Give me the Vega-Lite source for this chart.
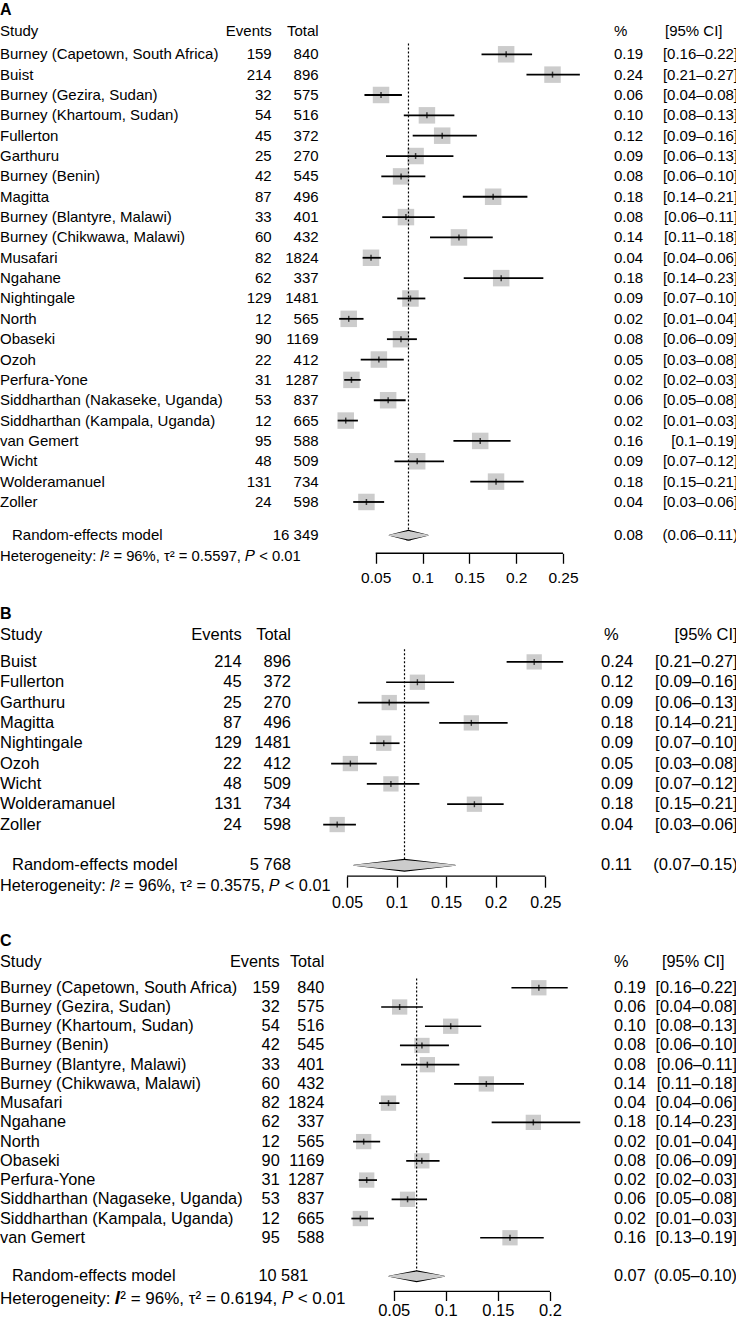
{
"$schema": "https://vega.github.io/schema/vega-lite/v6.json",
"padding": {"left": 0, "top": 2, "right": 0, "bottom": 0},
"background": "white",
"datasets": {
"A": [
{"study":"Burney (Capetown, South Africa)","events":159,"total":840,"prop":0.1893,"lower":0.163,"upper":0.217,"pct":"0.19","ci":"[0.16–0.22]"},
{"study":"Buist","events":214,"total":896,"prop":0.2388,"lower":0.211,"upper":0.268,"pct":"0.24","ci":"[0.21–0.27]"},
{"study":"Burney (Gezira, Sudan)","events":32,"total":575,"prop":0.0557,"lower":0.038,"upper":0.078,"pct":"0.06","ci":"[0.04–0.08]"},
{"study":"Burney (Khartoum, Sudan)","events":54,"total":516,"prop":0.1047,"lower":0.080,"upper":0.134,"pct":"0.10","ci":"[0.08–0.13]"},
{"study":"Fullerton","events":45,"total":372,"prop":0.1210,"lower":0.0895,"upper":0.158,"pct":"0.12","ci":"[0.09–0.16]"},
{"study":"Garthuru","events":25,"total":270,"prop":0.0926,"lower":0.061,"upper":0.133,"pct":"0.09","ci":"[0.06–0.13]"},
{"study":"Burney (Benin)","events":42,"total":545,"prop":0.0771,"lower":0.056,"upper":0.103,"pct":"0.08","ci":"[0.06–0.10]"},
{"study":"Magitta","events":87,"total":496,"prop":0.1754,"lower":0.143,"upper":0.212,"pct":"0.18","ci":"[0.14–0.21]"},
{"study":"Burney (Blantyre, Malawi)","events":33,"total":401,"prop":0.0823,"lower":0.057,"upper":0.113,"pct":"0.08","ci":"[0.06–0.11]"},
{"study":"Burney (Chikwawa, Malawi)","events":60,"total":432,"prop":0.1389,"lower":0.108,"upper":0.175,"pct":"0.14","ci":"[0.11–0.18]"},
{"study":"Musafari","events":82,"total":1824,"prop":0.0450,"lower":0.036,"upper":0.0555,"pct":"0.04","ci":"[0.04–0.06]"},
{"study":"Ngahane","events":62,"total":337,"prop":0.1840,"lower":0.144,"upper":0.229,"pct":"0.18","ci":"[0.14–0.23]"},
{"study":"Nightingale","events":129,"total":1481,"prop":0.0871,"lower":0.073,"upper":0.103,"pct":"0.09","ci":"[0.07–0.10]"},
{"study":"North","events":12,"total":565,"prop":0.0212,"lower":0.011,"upper":0.037,"pct":"0.02","ci":"[0.01–0.04]"},
{"study":"Obaseki","events":90,"total":1169,"prop":0.0770,"lower":0.062,"upper":0.094,"pct":"0.08","ci":"[0.06–0.09]"},
{"study":"Ozoh","events":22,"total":412,"prop":0.0534,"lower":0.034,"upper":0.080,"pct":"0.05","ci":"[0.03–0.08]"},
{"study":"Perfura-Yone","events":31,"total":1287,"prop":0.0241,"lower":0.0164,"upper":0.034,"pct":"0.02","ci":"[0.02–0.03]"},
{"study":"Siddharthan (Nakaseke, Uganda)","events":53,"total":837,"prop":0.0633,"lower":0.048,"upper":0.082,"pct":"0.06","ci":"[0.05–0.08]"},
{"study":"Siddharthan (Kampala, Uganda)","events":12,"total":665,"prop":0.0180,"lower":0.0094,"upper":0.031,"pct":"0.02","ci":"[0.01–0.03]"},
{"study":"van Gemert","events":95,"total":588,"prop":0.1616,"lower":0.133,"upper":0.194,"pct":"0.16","ci":"[0.1–0.19]"},
{"study":"Wicht","events":48,"total":509,"prop":0.0943,"lower":0.070,"upper":0.123,"pct":"0.09","ci":"[0.07–0.12]"},
{"study":"Wolderamanuel","events":131,"total":734,"prop":0.1785,"lower":0.151,"upper":0.208,"pct":"0.18","ci":"[0.15–0.21]"},
{"study":"Zoller","events":24,"total":598,"prop":0.0401,"lower":0.026,"upper":0.059,"pct":"0.04","ci":"[0.03–0.06]"}
],
"Am": [{"study":"Random-effects model","total":16349,"prop":0.085,"pct":"0.08","ci":"(0.06–0.11)"}],
"Ad": [{"prop":0.0645,"part":"tip"},{"prop":0.085,"part":"centre"},{"prop":0.1058,"part":"tip"}],
"B": [
{"study":"Buist","events":214,"total":896,"prop":0.2388,"lower":0.211,"upper":0.268,"pct":"0.24","ci":"[0.21–0.27]"},
{"study":"Fullerton","events":45,"total":372,"prop":0.1210,"lower":0.0895,"upper":0.158,"pct":"0.12","ci":"[0.09–0.16]"},
{"study":"Garthuru","events":25,"total":270,"prop":0.0926,"lower":0.061,"upper":0.133,"pct":"0.09","ci":"[0.06–0.13]"},
{"study":"Magitta","events":87,"total":496,"prop":0.1754,"lower":0.143,"upper":0.212,"pct":"0.18","ci":"[0.14–0.21]"},
{"study":"Nightingale","events":129,"total":1481,"prop":0.0871,"lower":0.073,"upper":0.103,"pct":"0.09","ci":"[0.07–0.10]"},
{"study":"Ozoh","events":22,"total":412,"prop":0.0534,"lower":0.034,"upper":0.080,"pct":"0.05","ci":"[0.03–0.08]"},
{"study":"Wicht","events":48,"total":509,"prop":0.0943,"lower":0.070,"upper":0.123,"pct":"0.09","ci":"[0.07–0.12]"},
{"study":"Wolderamanuel","events":131,"total":734,"prop":0.1785,"lower":0.151,"upper":0.208,"pct":"0.18","ci":"[0.15–0.21]"},
{"study":"Zoller","events":24,"total":598,"prop":0.0401,"lower":0.026,"upper":0.059,"pct":"0.04","ci":"[0.03–0.06]"}
],
"Bm": [{"study":"Random-effects model","total":5768,"prop":0.108,"pct":"0.11","ci":"(0.07–0.15)"}],
"Bd": [{"prop":0.057,"part":"tip"},{"prop":0.108,"part":"centre"},{"prop":0.159,"part":"tip"}],
"C": [
{"study":"Burney (Capetown, South Africa)","events":159,"total":840,"prop":0.1893,"lower":0.163,"upper":0.217,"pct":"0.19","ci":"[0.16–0.22]"},
{"study":"Burney (Gezira, Sudan)","events":32,"total":575,"prop":0.0557,"lower":0.038,"upper":0.078,"pct":"0.06","ci":"[0.04–0.08]"},
{"study":"Burney (Khartoum, Sudan)","events":54,"total":516,"prop":0.1047,"lower":0.080,"upper":0.134,"pct":"0.10","ci":"[0.08–0.13]"},
{"study":"Burney (Benin)","events":42,"total":545,"prop":0.0771,"lower":0.056,"upper":0.103,"pct":"0.08","ci":"[0.06–0.10]"},
{"study":"Burney (Blantyre, Malawi)","events":33,"total":401,"prop":0.0823,"lower":0.057,"upper":0.113,"pct":"0.08","ci":"[0.06–0.11]"},
{"study":"Burney (Chikwawa, Malawi)","events":60,"total":432,"prop":0.1389,"lower":0.108,"upper":0.175,"pct":"0.14","ci":"[0.11–0.18]"},
{"study":"Musafari","events":82,"total":1824,"prop":0.0450,"lower":0.036,"upper":0.0555,"pct":"0.04","ci":"[0.04–0.06]"},
{"study":"Ngahane","events":62,"total":337,"prop":0.1840,"lower":0.144,"upper":0.229,"pct":"0.18","ci":"[0.14–0.23]"},
{"study":"North","events":12,"total":565,"prop":0.0212,"lower":0.011,"upper":0.037,"pct":"0.02","ci":"[0.01–0.04]"},
{"study":"Obaseki","events":90,"total":1169,"prop":0.0770,"lower":0.062,"upper":0.094,"pct":"0.08","ci":"[0.06–0.09]"},
{"study":"Perfura-Yone","events":31,"total":1287,"prop":0.0241,"lower":0.0164,"upper":0.034,"pct":"0.02","ci":"[0.02–0.03]"},
{"study":"Siddharthan (Nagaseke, Uganda)","events":53,"total":837,"prop":0.0633,"lower":0.048,"upper":0.082,"pct":"0.06","ci":"[0.05–0.08]"},
{"study":"Siddharthan (Kampala, Uganda)","events":12,"total":665,"prop":0.0180,"lower":0.0094,"upper":0.031,"pct":"0.02","ci":"[0.01–0.03]"},
{"study":"van Gemert","events":95,"total":588,"prop":0.1616,"lower":0.133,"upper":0.194,"pct":"0.16","ci":"[0.13–0.19]"}
],
"Cm": [{"study":"Random-effects model","total":10581,"prop":0.072,"pct":"0.07","ci":"(0.05–0.10)"}],
"Cd": [{"prop":0.0455,"part":"tip"},{"prop":0.072,"part":"centre"},{"prop":0.0985,"part":"tip"}]
},
"spacing": 19.26,
"vconcat": [
{"spacing": 0, "bounds": "flush", "hconcat": [
{"width":225,"height":570.61,"data":{"name":"A"},
 "encoding":{"y":{"field":"study","type":"nominal","axis":null,"scale":{"type":"point","padding":0.52,"domain":["A","Study","Burney (Capetown, South Africa)","Buist","Burney (Gezira, Sudan)","Burney (Khartoum, Sudan)","Fullerton","Garthuru","Burney (Benin)","Magitta","Burney (Blantyre, Malawi)","Burney (Chikwawa, Malawi)","Musafari","Ngahane","Nightingale","North","Obaseki","Ozoh","Perfura-Yone","Siddharthan (Nakaseke, Uganda)","Siddharthan (Kampala, Uganda)","van Gemert","Wicht","Wolderamanuel","Zoller","gap","Random-effects model","Heterogeneity"]}}},
 "layer":[
  {"data":{"values":[{}]},"mark":{"type":"text","x":0,"align":"left","text":"A","fontWeight":"bold","fontSize":16,"yOffset":-3.3},"encoding":{"y":{"datum":"A","axis":null}}},
  {"data":{"values":[{}]},"mark":{"type":"text","x":0,"align":"left","text":"Study","fontSize":15,"yOffset":-3},"encoding":{"y":{"datum":"Study","axis":null}}},
  {"mark":{"type":"text","x":0,"align":"left","fontSize":15},"encoding":{"text":{"field":"study"}}},
  {"data":{"name":"Am"},"mark":{"type":"text","x":0,"align":"left","dx":12,"fontSize":15,"yOffset":-7.4},"encoding":{"text":{"field":"study"}}},
  {"data":{"values":[{}]},"mark":{"type":"text","x":0,"align":"left","text":"Heterogeneity: 𝐼² = 96%, τ² = 0.5597, 𝑃 < 0.01","fontSize":14.8,"yOffset":-6},"encoding":{"y":{"datum":"Heterogeneity","axis":null}}}
 ]},
{"width":46.7,"height":570.61,"data":{"name":"A"},
 "encoding":{"y":{"field":"study","type":"nominal","axis":null,"scale":{"type":"point","padding":0.52,"domain":["A","Study","Burney (Capetown, South Africa)","Buist","Burney (Gezira, Sudan)","Burney (Khartoum, Sudan)","Fullerton","Garthuru","Burney (Benin)","Magitta","Burney (Blantyre, Malawi)","Burney (Chikwawa, Malawi)","Musafari","Ngahane","Nightingale","North","Obaseki","Ozoh","Perfura-Yone","Siddharthan (Nakaseke, Uganda)","Siddharthan (Kampala, Uganda)","van Gemert","Wicht","Wolderamanuel","Zoller","gap","Random-effects model","Heterogeneity"]}}},
 "layer":[
  {"data":{"values":[{}]},"mark":{"type":"text","x":"width","align":"right","text":"Events","fontSize":15,"yOffset":-3},"encoding":{"y":{"datum":"Study","axis":null}}},
  {"mark":{"type":"text","x":"width","align":"right","fontSize":15},"encoding":{"text":{"field":"events","type":"quantitative","format":"d"}}}
 ]},
{"width":46.6,"height":570.61,"data":{"name":"A"},
 "encoding":{"y":{"field":"study","type":"nominal","axis":null,"scale":{"type":"point","padding":0.52,"domain":["A","Study","Burney (Capetown, South Africa)","Buist","Burney (Gezira, Sudan)","Burney (Khartoum, Sudan)","Fullerton","Garthuru","Burney (Benin)","Magitta","Burney (Blantyre, Malawi)","Burney (Chikwawa, Malawi)","Musafari","Ngahane","Nightingale","North","Obaseki","Ozoh","Perfura-Yone","Siddharthan (Nakaseke, Uganda)","Siddharthan (Kampala, Uganda)","van Gemert","Wicht","Wolderamanuel","Zoller","gap","Random-effects model","Heterogeneity"]}}},
 "layer":[
  {"data":{"values":[{}]},"mark":{"type":"text","x":"width","align":"right","text":"Total","fontSize":15,"yOffset":-3},"encoding":{"y":{"datum":"Study","axis":null}}},
  {"mark":{"type":"text","x":"width","align":"right","fontSize":15},"encoding":{"text":{"field":"total","type":"quantitative","format":"d"}}},
  {"data":{"name":"Am"},"mark":{"type":"text","x":"width","align":"right","fontSize":15,"yOffset":-7.4},"encoding":{"text":{"field":"total","type":"quantitative","format":",d"}}}
 ]},
{"width":294.4,"height":550.26,"data":{"name":"A"},
 "encoding":{"y":{"field":"study","type":"nominal","axis":null,"scale":{"type":"point","padding":0.52,"domain":["A","Study","Burney (Capetown, South Africa)","Buist","Burney (Gezira, Sudan)","Burney (Khartoum, Sudan)","Fullerton","Garthuru","Burney (Benin)","Magitta","Burney (Blantyre, Malawi)","Burney (Chikwawa, Malawi)","Musafari","Ngahane","Nightingale","North","Obaseki","Ozoh","Perfura-Yone","Siddharthan (Nakaseke, Uganda)","Siddharthan (Kampala, Uganda)","van Gemert","Wicht","Wolderamanuel","Zoller","gap","Random-effects model"]}}},
 "layer":[
  {"mark":{"type":"point","shape":"square","filled":true,"size":272,"color":"#cccccc","opacity":1},
   "encoding":{"x":{"field":"prop","type":"quantitative","title":null,"scale":{"domain":[-0.01054,0.30382],"nice":false,"zero":false},
     "axis":{"values":[0.05,0.1,0.15,0.2,0.25],"format":"~g","tickSize":10,"tickWidth":1.3,"labelFontSize":15.5,"labelPadding":7,"labelFlush":false,"labelOverlap":false,"domain":false,"grid":false}}}},
  {"data":{"name":"Am"},"mark":{"type":"rule","strokeDash":[2,2],"strokeWidth":1.2,"color":"black","yOffset":9.5,"y2Offset":-7.4},
   "encoding":{"x":{"field":"prop","type":"quantitative","title":null},"y":{"datum":"Study","axis":null},"y2":{"datum":"Random-effects model"}}},
  {"mark":{"type":"rule","strokeWidth":1.8,"color":"black"},"encoding":{"x":{"field":"lower","type":"quantitative","title":null},"x2":{"field":"upper"}}},
  {"mark":{"type":"tick","size":6,"thickness":1.5,"color":"black"},"encoding":{"x":{"field":"prop","type":"quantitative","title":null}}},
  {"data":{"name":"Ad"},"mark":{"type":"trail","color":"black","yOffset":-7.4},
   "encoding":{"x":{"field":"prop","type":"quantitative","title":null},"y":{"datum":"Random-effects model","axis":null},"size":{"field":"part","type":"ordinal","legend":null,"scale":{"type":"point","domain":["tip","centre"],"range":[0,11]}}}},
  {"data":{"name":"Ad"},"mark":{"type":"trail","color":"#cccccc","yOffset":-7.4},
   "encoding":{"x":{"field":"prop","type":"quantitative","title":null},"y":{"datum":"Random-effects model","axis":null},"size":{"field":"part","type":"ordinal","legend":null,"scale":{"type":"point","domain":["tip","centre"],"range":[0,8.4]}}}},
  {"data":{"values":[{}]},"mark":{"type":"rule","strokeWidth":1.3,"color":"black"},
   "encoding":{"x":{"datum":0.05,"type":"quantitative","title":null},"x2":{"datum":0.25},"y":{"value":"height"}}}
 ],
 "resolve":{"scale":{"size":"independent"}}},
{"width":50.3,"height":570.61,"data":{"name":"A"},
 "encoding":{"y":{"field":"study","type":"nominal","axis":null,"scale":{"type":"point","padding":0.52,"domain":["A","Study","Burney (Capetown, South Africa)","Buist","Burney (Gezira, Sudan)","Burney (Khartoum, Sudan)","Fullerton","Garthuru","Burney (Benin)","Magitta","Burney (Blantyre, Malawi)","Burney (Chikwawa, Malawi)","Musafari","Ngahane","Nightingale","North","Obaseki","Ozoh","Perfura-Yone","Siddharthan (Nakaseke, Uganda)","Siddharthan (Kampala, Uganda)","van Gemert","Wicht","Wolderamanuel","Zoller","gap","Random-effects model","Heterogeneity"]}}},
 "layer":[
  {"data":{"values":[{}]},"mark":{"type":"text","x":0,"align":"left","text":"%","fontSize":15,"yOffset":-3},"encoding":{"y":{"datum":"Study","axis":null}}},
  {"mark":{"type":"text","x":0,"align":"left","fontSize":15},"encoding":{"text":{"field":"pct"}}},
  {"data":{"name":"Am"},"mark":{"type":"text","x":0,"align":"left","fontSize":15,"yOffset":-7.4},"encoding":{"text":{"field":"pct"}}}
 ]},
{"width":73,"height":570.61,"data":{"name":"A"},
 "encoding":{"y":{"field":"study","type":"nominal","axis":null,"scale":{"type":"point","padding":0.52,"domain":["A","Study","Burney (Capetown, South Africa)","Buist","Burney (Gezira, Sudan)","Burney (Khartoum, Sudan)","Fullerton","Garthuru","Burney (Benin)","Magitta","Burney (Blantyre, Malawi)","Burney (Chikwawa, Malawi)","Musafari","Ngahane","Nightingale","North","Obaseki","Ozoh","Perfura-Yone","Siddharthan (Nakaseke, Uganda)","Siddharthan (Kampala, Uganda)","van Gemert","Wicht","Wolderamanuel","Zoller","gap","Random-effects model","Heterogeneity"]}}},
 "layer":[
  {"data":{"values":[{}]},"mark":{"type":"text","x":0,"align":"left","text":"[95% CI]","fontSize":15,"yOffset":-3},"encoding":{"y":{"datum":"Study","axis":null}}},
  {"mark":{"type":"text","x":"width","align":"right","fontSize":15},"encoding":{"text":{"field":"ci"}}},
  {"data":{"name":"Am"},"mark":{"type":"text","x":"width","align":"right","fontSize":15,"yOffset":-7.4},"encoding":{"text":{"field":"ci"}}}
 ]}
]},
{"spacing": 21.8, "vconcat": [
{"spacing": 0, "bounds": "flush", "hconcat": [
{"width":200,"height":286.25,"data":{"name":"B"},
 "encoding":{"y":{"field":"study","type":"nominal","axis":null,"scale":{"type":"point","padding":0.54,"domain":["B","Study","Buist","Fullerton","Garthuru","Magitta","Nightingale","Ozoh","Wicht","Wolderamanuel","Zoller","gap","Random-effects model","Heterogeneity"]}}},
 "layer":[
  {"data":{"values":[{}]},"mark":{"type":"text","x":0,"align":"left","text":"B","fontWeight":"bold","fontSize":16,"yOffset":-7},"encoding":{"y":{"datum":"B","axis":null}}},
  {"data":{"values":[{}]},"mark":{"type":"text","x":0,"align":"left","text":"Study","fontSize":16.5,"yOffset":-6.4},"encoding":{"y":{"datum":"Study","axis":null}}},
  {"mark":{"type":"text","x":0,"align":"left","fontSize":16.5},"encoding":{"text":{"field":"study"}}},
  {"data":{"name":"Bm"},"mark":{"type":"text","x":0,"align":"left","dx":12,"fontSize":16.5},"encoding":{"text":{"field":"study"}}},
  {"data":{"values":[{}]},"mark":{"type":"text","x":0,"align":"left","text":"Heterogeneity: 𝐼² = 96%, τ² = 0.3575, 𝑃 < 0.01","fontSize":16.3},"encoding":{"y":{"datum":"Heterogeneity","axis":null}}}
 ]},
{"width":41.7,"height":286.25,"data":{"name":"B"},
 "encoding":{"y":{"field":"study","type":"nominal","axis":null,"scale":{"type":"point","padding":0.54,"domain":["B","Study","Buist","Fullerton","Garthuru","Magitta","Nightingale","Ozoh","Wicht","Wolderamanuel","Zoller","gap","Random-effects model","Heterogeneity"]}}},
 "layer":[
  {"data":{"values":[{}]},"mark":{"type":"text","x":"width","align":"right","text":"Events","fontSize":16.5,"yOffset":-6.4},"encoding":{"y":{"datum":"Study","axis":null}}},
  {"mark":{"type":"text","x":"width","align":"right","fontSize":16.5},"encoding":{"text":{"field":"events","type":"quantitative","format":"d"}}}
 ]},
{"width":49,"height":286.25,"data":{"name":"B"},
 "encoding":{"y":{"field":"study","type":"nominal","axis":null,"scale":{"type":"point","padding":0.54,"domain":["B","Study","Buist","Fullerton","Garthuru","Magitta","Nightingale","Ozoh","Wicht","Wolderamanuel","Zoller","gap","Random-effects model","Heterogeneity"]}}},
 "layer":[
  {"data":{"values":[{}]},"mark":{"type":"text","x":"width","align":"right","text":"Total","fontSize":16.5,"yOffset":-6.4},"encoding":{"y":{"datum":"Study","axis":null}}},
  {"mark":{"type":"text","x":"width","align":"right","fontSize":16.5},"encoding":{"text":{"field":"total","type":"quantitative","format":"d"}}},
  {"data":{"name":"Bm"},"mark":{"type":"text","x":"width","align":"right","fontSize":16.5},"encoding":{"text":{"field":"total","type":"quantitative","format":",d"}}}
 ]},
{"width":309.3,"height":265.92,"data":{"name":"B"},
 "encoding":{"y":{"field":"study","type":"nominal","axis":null,"scale":{"type":"point","padding":0.54,"domain":["B","Study","Buist","Fullerton","Garthuru","Magitta","Nightingale","Ozoh","Wicht","Wolderamanuel","Zoller","gap","Random-effects model"]}}},
 "layer":[
  {"mark":{"type":"point","shape":"square","filled":true,"size":234,"color":"#cccccc","opacity":1},
   "encoding":{"x":{"field":"prop","type":"quantitative","title":null,"scale":{"domain":[-0.00648,0.30547],"nice":false,"zero":false},
     "axis":{"values":[0.05,0.1,0.15,0.2,0.25],"format":"~g","tickSize":11,"tickWidth":1.3,"labelFontSize":16,"labelPadding":7,"labelFlush":false,"labelOverlap":false,"domain":false,"grid":false}}}},
  {"data":{"name":"Bm"},"mark":{"type":"rule","strokeDash":[2,2],"strokeWidth":1.2,"color":"black","yOffset":7.6},
   "encoding":{"x":{"field":"prop","type":"quantitative","title":null},"y":{"datum":"Study","axis":null},"y2":{"datum":"Random-effects model"}}},
  {"mark":{"type":"rule","strokeWidth":1.7,"color":"black"},"encoding":{"x":{"field":"lower","type":"quantitative","title":null},"x2":{"field":"upper"}}},
  {"mark":{"type":"tick","size":6,"thickness":1.4,"color":"black"},"encoding":{"x":{"field":"prop","type":"quantitative","title":null}}},
  {"data":{"name":"Bd"},"mark":{"type":"trail","color":"black"},
   "encoding":{"x":{"field":"prop","type":"quantitative","title":null},"y":{"datum":"Random-effects model","axis":null},"size":{"field":"part","type":"ordinal","legend":null,"scale":{"type":"point","domain":["tip","centre"],"range":[0,13]}}}},
  {"data":{"name":"Bd"},"mark":{"type":"trail","color":"#cccccc"},
   "encoding":{"x":{"field":"prop","type":"quantitative","title":null},"y":{"datum":"Random-effects model","axis":null},"size":{"field":"part","type":"ordinal","legend":null,"scale":{"type":"point","domain":["tip","centre"],"range":[0,10.4]}}}},
  {"data":{"values":[{}]},"mark":{"type":"rule","strokeWidth":1.3,"color":"black"},
   "encoding":{"x":{"datum":0.05,"type":"quantitative","title":null},"x2":{"datum":0.25},"y":{"value":"height"}}}
 ],
 "resolve":{"scale":{"size":"independent"}}},
{"width":54.3,"height":286.25,"data":{"name":"B"},
 "encoding":{"y":{"field":"study","type":"nominal","axis":null,"scale":{"type":"point","padding":0.54,"domain":["B","Study","Buist","Fullerton","Garthuru","Magitta","Nightingale","Ozoh","Wicht","Wolderamanuel","Zoller","gap","Random-effects model","Heterogeneity"]}}},
 "layer":[
  {"data":{"values":[{}]},"mark":{"type":"text","x":0,"align":"left","dx":3,"text":"%","fontSize":16.5,"yOffset":-6.4},"encoding":{"y":{"datum":"Study","axis":null}}},
  {"mark":{"type":"text","x":0,"align":"left","fontSize":16.5},"encoding":{"text":{"field":"pct"}}},
  {"data":{"name":"Bm"},"mark":{"type":"text","x":0,"align":"left","fontSize":16.5},"encoding":{"text":{"field":"pct"}}}
 ]},
{"width":81.7,"height":286.25,"data":{"name":"B"},
 "encoding":{"y":{"field":"study","type":"nominal","axis":null,"scale":{"type":"point","padding":0.54,"domain":["B","Study","Buist","Fullerton","Garthuru","Magitta","Nightingale","Ozoh","Wicht","Wolderamanuel","Zoller","gap","Random-effects model","Heterogeneity"]}}},
 "layer":[
  {"data":{"values":[{}]},"mark":{"type":"text","x":"width","align":"right","text":"[95% CI]","fontSize":16.5,"yOffset":-6.4},"encoding":{"y":{"datum":"Study","axis":null}}},
  {"mark":{"type":"text","x":"width","align":"right","fontSize":16.5},"encoding":{"text":{"field":"ci"}}},
  {"data":{"name":"Bm"},"mark":{"type":"text","x":"width","align":"right","fontSize":16.5},"encoding":{"text":{"field":"ci"}}}
 ]}
]},
{"spacing": 0, "bounds": "flush", "hconcat": [
{"width":230,"height":380.64,"data":{"name":"C"},
 "encoding":{"y":{"field":"study","type":"nominal","axis":null,"scale":{"type":"point","padding":0.897,"domain":["C","Study","Burney (Capetown, South Africa)","Burney (Gezira, Sudan)","Burney (Khartoum, Sudan)","Burney (Benin)","Burney (Blantyre, Malawi)","Burney (Chikwawa, Malawi)","Musafari","Ngahane","North","Obaseki","Perfura-Yone","Siddharthan (Nagaseke, Uganda)","Siddharthan (Kampala, Uganda)","van Gemert","gap","Random-effects model","Heterogeneity"]}}},
 "layer":[
  {"data":{"values":[{}]},"mark":{"type":"text","x":0,"align":"left","text":"C","fontWeight":"bold","fontSize":16,"yOffset":-8},"encoding":{"y":{"datum":"C","axis":null}}},
  {"data":{"values":[{}]},"mark":{"type":"text","x":0,"align":"left","text":"Study","fontSize":16.3,"yOffset":-6.5},"encoding":{"y":{"datum":"Study","axis":null}}},
  {"mark":{"type":"text","x":0,"align":"left","fontSize":16.3},"encoding":{"text":{"field":"study"}}},
  {"data":{"name":"Cm"},"mark":{"type":"text","x":0,"align":"left","dx":12,"fontSize":16.3},"encoding":{"text":{"field":"study"}}},
  {"data":{"values":[{}]},"mark":{"type":"text","x":0,"align":"left","text":"Heterogeneity: 𝑰² = 96%, τ² = 0.6194, 𝑃 < 0.01","fontSize":17,"yOffset":4},"encoding":{"y":{"datum":"Heterogeneity","axis":null}}}
 ]},
{"width":49.7,"height":380.64,"data":{"name":"C"},
 "encoding":{"y":{"field":"study","type":"nominal","axis":null,"scale":{"type":"point","padding":0.897,"domain":["C","Study","Burney (Capetown, South Africa)","Burney (Gezira, Sudan)","Burney (Khartoum, Sudan)","Burney (Benin)","Burney (Blantyre, Malawi)","Burney (Chikwawa, Malawi)","Musafari","Ngahane","North","Obaseki","Perfura-Yone","Siddharthan (Nagaseke, Uganda)","Siddharthan (Kampala, Uganda)","van Gemert","gap","Random-effects model","Heterogeneity"]}}},
 "layer":[
  {"data":{"values":[{}]},"mark":{"type":"text","x":"width","align":"right","text":"Events","fontSize":16.3,"yOffset":-6.5},"encoding":{"y":{"datum":"Study","axis":null}}},
  {"mark":{"type":"text","x":"width","align":"right","fontSize":16.3},"encoding":{"text":{"field":"events","type":"quantitative","format":"d"}}}
 ]},
{"width":44.3,"height":380.64,"data":{"name":"C"},
 "encoding":{"y":{"field":"study","type":"nominal","axis":null,"scale":{"type":"point","padding":0.897,"domain":["C","Study","Burney (Capetown, South Africa)","Burney (Gezira, Sudan)","Burney (Khartoum, Sudan)","Burney (Benin)","Burney (Blantyre, Malawi)","Burney (Chikwawa, Malawi)","Musafari","Ngahane","North","Obaseki","Perfura-Yone","Siddharthan (Nagaseke, Uganda)","Siddharthan (Kampala, Uganda)","van Gemert","gap","Random-effects model","Heterogeneity"]}}},
 "layer":[
  {"data":{"values":[{}]},"mark":{"type":"text","x":"width","align":"right","text":"Total","fontSize":16.3,"yOffset":-6.5},"encoding":{"y":{"datum":"Study","axis":null}}},
  {"mark":{"type":"text","x":"width","align":"right","fontSize":16.3},"encoding":{"text":{"field":"total","type":"quantitative","format":"d"}}},
  {"data":{"name":"Cm"},"mark":{"type":"text","x":"width","align":"right","dx":-16,"fontSize":16.3},"encoding":{"text":{"field":"total","type":"quantitative","format":",d"}}}
 ]},
{"width":288.7,"height":361.41,"data":{"name":"C"},
 "encoding":{"y":{"field":"study","type":"nominal","axis":null,"scale":{"type":"point","padding":0.897,"domain":["C","Study","Burney (Capetown, South Africa)","Burney (Gezira, Sudan)","Burney (Khartoum, Sudan)","Burney (Benin)","Burney (Blantyre, Malawi)","Burney (Chikwawa, Malawi)","Musafari","Ngahane","North","Obaseki","Perfura-Yone","Siddharthan (Nagaseke, Uganda)","Siddharthan (Kampala, Uganda)","van Gemert","gap","Random-effects model"]}}},
 "layer":[
  {"mark":{"type":"point","shape":"square","filled":true,"size":234,"color":"#cccccc","opacity":1},
   "encoding":{"x":{"field":"prop","type":"quantitative","title":null,"scale":{"domain":[-0.01593,0.26113],"nice":false,"zero":false},
     "axis":{"values":[0.05,0.1,0.15,0.2],"format":"~g","offset":-2,"tickSize":9,"tickWidth":1.3,"labelFontSize":16.5,"labelPadding":2,"labelFlush":false,"labelOverlap":false,"domain":false,"grid":false}}}},
  {"data":{"name":"Cm"},"mark":{"type":"rule","strokeDash":[2,2],"strokeWidth":1.2,"color":"black","yOffset":10},
   "encoding":{"x":{"field":"prop","type":"quantitative","title":null},"y":{"datum":"Study","axis":null},"y2":{"datum":"Random-effects model"}}},
  {"mark":{"type":"rule","strokeWidth":1.7,"color":"black"},"encoding":{"x":{"field":"lower","type":"quantitative","title":null},"x2":{"field":"upper"}}},
  {"mark":{"type":"tick","size":6,"thickness":1.5,"color":"black"},"encoding":{"x":{"field":"prop","type":"quantitative","title":null}}},
  {"data":{"name":"Cd"},"mark":{"type":"trail","color":"black"},
   "encoding":{"x":{"field":"prop","type":"quantitative","title":null},"y":{"datum":"Random-effects model","axis":null},"size":{"field":"part","type":"ordinal","legend":null,"scale":{"type":"point","domain":["tip","centre"],"range":[0,12]}}}},
  {"data":{"name":"Cd"},"mark":{"type":"trail","color":"#cccccc"},
   "encoding":{"x":{"field":"prop","type":"quantitative","title":null},"y":{"datum":"Random-effects model","axis":null},"size":{"field":"part","type":"ordinal","legend":null,"scale":{"type":"point","domain":["tip","centre"],"range":[0,9.4]}}}},
  {"data":{"values":[{}]},"mark":{"type":"rule","strokeWidth":1.3,"color":"black","yOffset":-2},
   "encoding":{"x":{"datum":0.05,"type":"quantitative","title":null},"x2":{"datum":0.2},"y":{"value":"height"}}}
 ],
 "resolve":{"scale":{"size":"independent"}}},
{"width":43.3,"height":380.64,"data":{"name":"C"},
 "encoding":{"y":{"field":"study","type":"nominal","axis":null,"scale":{"type":"point","padding":0.897,"domain":["C","Study","Burney (Capetown, South Africa)","Burney (Gezira, Sudan)","Burney (Khartoum, Sudan)","Burney (Benin)","Burney (Blantyre, Malawi)","Burney (Chikwawa, Malawi)","Musafari","Ngahane","North","Obaseki","Perfura-Yone","Siddharthan (Nagaseke, Uganda)","Siddharthan (Kampala, Uganda)","van Gemert","gap","Random-effects model","Heterogeneity"]}}},
 "layer":[
  {"data":{"values":[{}]},"mark":{"type":"text","x":0,"align":"left","text":"%","fontSize":16.3,"yOffset":-6.5},"encoding":{"y":{"datum":"Study","axis":null}}},
  {"mark":{"type":"text","x":0,"align":"left","fontSize":16.3},"encoding":{"text":{"field":"pct"}}},
  {"data":{"name":"Cm"},"mark":{"type":"text","x":0,"align":"left","fontSize":16.3},"encoding":{"text":{"field":"pct"}}}
 ]},
{"width":80,"height":380.64,"data":{"name":"C"},
 "encoding":{"y":{"field":"study","type":"nominal","axis":null,"scale":{"type":"point","padding":0.897,"domain":["C","Study","Burney (Capetown, South Africa)","Burney (Gezira, Sudan)","Burney (Khartoum, Sudan)","Burney (Benin)","Burney (Blantyre, Malawi)","Burney (Chikwawa, Malawi)","Musafari","Ngahane","North","Obaseki","Perfura-Yone","Siddharthan (Nagaseke, Uganda)","Siddharthan (Kampala, Uganda)","van Gemert","gap","Random-effects model","Heterogeneity"]}}},
 "layer":[
  {"data":{"values":[{}]},"mark":{"type":"text","x":0,"align":"left","dx":4,"text":"[95% CI]","fontSize":16.3,"yOffset":-6.5},"encoding":{"y":{"datum":"Study","axis":null}}},
  {"mark":{"type":"text","x":"width","align":"right","dx":-1,"fontSize":16.3},"encoding":{"text":{"field":"ci"}}},
  {"data":{"name":"Cm"},"mark":{"type":"text","x":"width","align":"right","dx":-1,"fontSize":16.3},"encoding":{"text":{"field":"ci"}}}
 ]}
]}
]}
],
"config": {
 "view": {"stroke": null},
 "text": {"font": "Liberation Sans", "color": "black", "baseline": "middle"},
 "axis": {"labelFont": "Liberation Sans", "labelColor": "black", "tickColor": "black"},
 "locale": {"number": {"decimal": ".", "thousands": " ", "grouping": [3], "currency": ["", ""]}}
}
}
